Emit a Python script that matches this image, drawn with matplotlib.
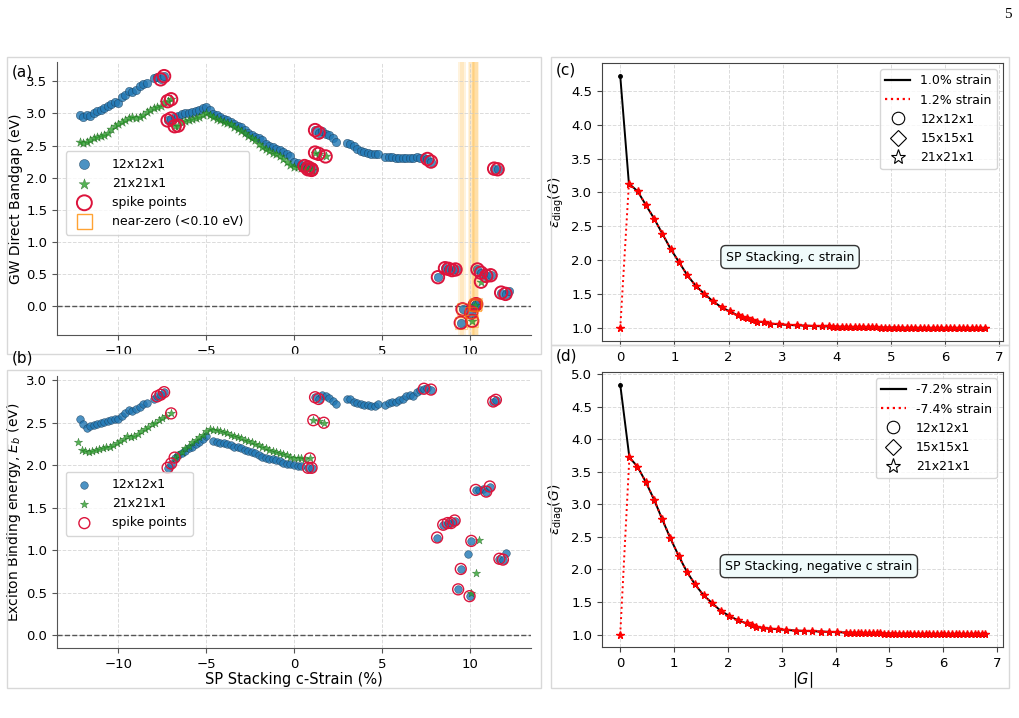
import numpy as np
import matplotlib
matplotlib.use("Agg")
import matplotlib.pyplot as plt
from matplotlib.lines import Line2D
from matplotlib.patches import Rectangle

# ---- (a) GW direct bandgap vs c-strain ----
gw12_x = [-12.2, -12.0, -11.8, -11.6, -11.4, -11.2, -11.0, -10.8, -10.6, -10.4, -10.2, -10.0,
          -9.8, -9.6, -9.4, -9.2, -9.0, -8.8, -8.6, -8.4, -8.0, -7.8, -7.6, -7.4,
          -7.2, -7.0, -6.8, -6.6, -6.4, -6.2, -6.0, -5.8, -5.6, -5.4, -5.2, -5.0, -4.8, -4.6,
          -4.4, -4.2, -4.0, -3.8, -3.6, -3.4, -3.2, -3.0, -2.8, -2.6, -2.4, -2.2, -2.0, -1.8,
          -1.6, -1.4, -1.2, -1.0, -0.8, -0.6, -0.4, -0.2, 0.0, 0.2, 0.4, 0.6, 0.8, 1.0,
          1.2, 1.4, 1.6, 1.8, 2.0, 2.2, 2.4, 3.0, 3.2, 3.4, 3.6, 3.8, 4.0, 4.2, 4.4, 4.6, 4.8,
          5.2, 5.4, 5.6, 5.8, 6.0, 6.2, 6.4, 6.6, 6.8, 7.0, 7.2, 7.4, 7.6, 7.8,
          8.2, 8.6, 8.8, 9.0, 9.2, 9.5, 9.6, 10.1, 10.3, 10.38, 10.45, 10.65, 10.95, 11.2,
          11.4, 11.6, 11.8, 12.05, 12.25]
gw12 = [2.98, 2.95, 2.98, 2.96, 3.00, 3.04, 3.06, 3.09, 3.12, 3.15, 3.17, 3.16,
        3.25, 3.29, 3.35, 3.33, 3.36, 3.42, 3.46, 3.47, 3.55, 3.56, 3.53, 3.58,
        2.89, 2.92, 2.94, 2.96, 2.99, 3.00, 3.01, 3.02, 3.04, 3.05, 3.08, 3.10, 3.06, 2.99,
        2.97, 2.94, 2.91, 2.89, 2.87, 2.84, 2.81, 2.79, 2.74, 2.70, 2.66, 2.64, 2.61, 2.58,
        2.52, 2.49, 2.47, 2.45, 2.43, 2.40, 2.37, 2.34, 2.25, 2.22, 2.20, 2.18, 2.16, 2.13,
        2.74, 2.70, 2.72, 2.68, 2.66, 2.61, 2.55, 2.54, 2.53, 2.49, 2.44, 2.41, 2.40, 2.39, 2.37, 2.36, 2.36,
        2.32, 2.32, 2.32, 2.31, 2.31, 2.31, 2.31, 2.31, 2.30, 2.32, 2.31, 2.30, 2.29, 2.25,
        0.45, 0.59, 0.58, 0.56, 0.57, -0.26, -0.05, -0.10, 0.01, 0.03, 0.57, 0.52, 0.47, 0.48,
        2.14, 2.13, 0.21, 0.19, 0.23]
gw21_x = [-12.2, -12.0, -11.8, -11.6, -11.4, -11.2, -11.0, -10.8, -10.6, -10.4, -10.2, -10.0,
          -9.8, -9.6, -9.4, -9.2, -9.0, -8.8, -8.6, -8.4, -8.2, -8.0, -7.8, -7.6, -7.4, -7.2, -7.0,
          -6.8, -6.6, -6.4, -6.2, -6.0, -5.8, -5.6, -5.4, -5.2, -5.0, -4.8, -4.6, -4.4, -4.2,
          -4.0, -3.8, -3.6, -3.4, -3.2, -3.0, -2.8, -2.6, -2.4, -2.2, -2.0, -1.8, -1.6, -1.4,
          -1.2, -1.0, -0.8, -0.6, -0.4, -0.2, 0.0, 0.2, 0.4, 0.6, 0.8, 1.0,
          1.2, 1.4, 1.8, 10.15, 10.3, 10.65]
gw21 = [2.55, 2.54, 2.56, 2.58, 2.61, 2.63, 2.65, 2.67, 2.70, 2.75, 2.80, 2.83,
        2.86, 2.89, 2.93, 2.94, 2.93, 2.94, 2.98, 3.02, 3.05, 3.08, 3.10, 3.12, 3.17, 3.19, 3.22,
        2.80, 2.81, 2.86, 2.88, 2.89, 2.91, 2.93, 2.95, 2.97, 3.00, 2.97, 2.94, 2.92, 2.90,
        2.87, 2.85, 2.83, 2.79, 2.76, 2.73, 2.69, 2.65, 2.61, 2.58, 2.53, 2.48, 2.45, 2.41,
        2.39, 2.37, 2.33, 2.29, 2.25, 2.20, 2.17, 2.16, 2.15, 2.14, 2.13, 2.12,
        2.39, 2.37, 2.33, -0.23, 0.02, 0.38]
gw12_spikes = [-7.6, -7.4, -7.2, -7.0, 0.6, 0.8, 1.0, 1.2, 1.4, 7.6, 7.8, 8.2, 8.6, 8.8, 9.0,
               9.2, 9.5, 9.6, 10.1, 10.3, 10.38, 10.45, 10.65, 10.95, 11.2, 11.4, 11.6, 11.8, 12.05]
gw21_spikes = [-7.2, -7.0, -6.8, -6.6, 0.8, 1.0, 1.2, 1.4, 1.8, 10.15, 10.3, 10.65]
near_zero_cut = 0.10

# ---- (b) exciton binding energy vs c-strain ----
eb12_x = [-12.2, -12.0, -11.8, -11.6, -11.4, -11.2, -11.0, -10.8, -10.6, -10.4, -10.2, -10.0,
          -9.8, -9.6, -9.4, -9.2, -9.0, -8.8, -8.6, -8.4, -8.0, -7.8, -7.6, -7.4,
          -7.2, -7.0, -6.8, -6.6, -6.4, -6.2, -6.0, -5.8, -5.6, -5.4, -5.2, -5.0,
          -4.6, -4.4, -4.2, -4.0, -3.8, -3.6, -3.4, -3.2, -3.0, -2.8, -2.6, -2.4, -2.2, -2.0,
          -1.8, -1.6, -1.4, -1.2, -1.0, -0.8, -0.6, -0.4, -0.2, 0.0, 0.2, 0.4, 0.8, 1.0,
          1.2, 1.4, 1.6, 1.8, 2.0, 2.2, 2.4, 3.0, 3.2, 3.4, 3.6, 3.8, 4.0, 4.2, 4.4, 4.6, 4.8,
          5.2, 5.4, 5.6, 5.8, 6.0, 6.2, 6.4, 6.6, 6.8, 7.0, 7.2, 7.4, 7.6, 7.8,
          8.15, 8.5, 8.75, 8.95, 9.15, 9.35, 9.5, 9.9, 10.0, 10.1, 10.35, 10.55, 10.75, 10.95,
          11.15, 11.35, 11.5, 11.7, 11.9, 12.1]
eb12 = [2.54, 2.49, 2.44, 2.46, 2.47, 2.48, 2.50, 2.51, 2.52, 2.53, 2.54, 2.55,
        2.58, 2.61, 2.65, 2.64, 2.66, 2.69, 2.72, 2.73, 2.78, 2.81, 2.83, 2.86,
        1.97, 2.02, 2.09, 2.12, 2.15, 2.17, 2.20, 2.22, 2.25, 2.27, 2.31, 2.34,
        2.29, 2.27, 2.26, 2.26, 2.25, 2.24, 2.22, 2.21, 2.20, 2.18, 2.17, 2.16, 2.14, 2.12,
        2.10, 2.09, 2.07, 2.07, 2.06, 2.05, 2.03, 2.02, 2.01, 2.00, 1.99, 1.99, 1.97, 1.97,
        2.80, 2.78, 2.83, 2.82, 2.79, 2.76, 2.72, 2.78, 2.78, 2.75, 2.73, 2.72, 2.71, 2.71, 2.70, 2.70, 2.72,
        2.71, 2.73, 2.74, 2.75, 2.77, 2.78, 2.81, 2.83, 2.82, 2.86, 2.88, 2.90, 2.91, 2.89,
        1.15, 1.30, 1.32, 1.32, 1.35, 0.54, 0.78, 0.96, 0.46, 1.11, 1.71, 1.71, 1.72, 1.69,
        1.75, 2.75, 2.77, 0.90, 0.89, 0.97]
eb21_x = [-12.3, -12.1, -11.9, -11.7, -11.5, -11.3, -11.1, -10.9, -10.7, -10.5, -10.3, -10.1,
          -9.9, -9.7, -9.5, -9.3, -9.1, -8.9, -8.7, -8.5, -8.3, -8.1, -7.9, -7.7, -7.5, -7.3, -7.0,
          -6.8, -6.6, -6.4, -6.2, -6.0, -5.8, -5.6, -5.4, -5.2, -5.0, -4.8, -4.6, -4.4, -4.2,
          -4.0, -3.8, -3.6, -3.4, -3.2, -3.0, -2.8, -2.6, -2.4, -2.2, -2.0, -1.8, -1.6, -1.4,
          -1.2, -1.0, -0.8, -0.6, -0.4, -0.2, 0.0, 0.2, 0.4, 0.6, 0.9,
          1.1, 1.4, 1.7, 10.1, 10.35, 10.55]
eb21 = [2.27, 2.18, 2.17, 2.16, 2.17, 2.18, 2.19, 2.20, 2.21, 2.21, 2.24, 2.26,
        2.28, 2.31, 2.34, 2.33, 2.35, 2.37, 2.40, 2.43, 2.45, 2.48, 2.50, 2.53, 2.56, 2.58, 2.61,
        2.08, 2.12, 2.16, 2.20, 2.23, 2.27, 2.30, 2.33, 2.36, 2.40, 2.43, 2.42, 2.41, 2.40,
        2.39, 2.38, 2.36, 2.35, 2.33, 2.32, 2.30, 2.29, 2.27, 2.25, 2.24, 2.22, 2.20, 2.18,
        2.17, 2.16, 2.15, 2.13, 2.12, 2.10, 2.09, 2.09, 2.08, 2.07, 2.08,
        2.53, 2.52, 2.50, 0.50, 0.73, 1.12]
eb12_spikes = [-7.8, -7.6, -7.4, -7.2, -7.0, -6.8, 0.8, 1.0, 1.2, 1.4, 7.4, 7.8, 8.15, 8.5,
               8.75, 8.95, 9.15, 9.35, 9.5, 10.0, 10.1, 10.35, 10.95, 11.15, 11.35, 11.5, 11.7, 11.9]
eb21_spikes = [-7.0, 0.9, 1.1, 1.7]

# ---- (c) dielectric diagonal, positive c strain ----
g_c = [0.00, 0.16, 0.32, 0.47, 0.63, 0.78, 0.93, 1.09, 1.24, 1.39, 1.55, 1.71, 1.87, 2.02,
       2.17, 2.25, 2.34, 2.43, 2.53, 2.65, 2.77, 2.93, 3.10, 3.26, 3.42, 3.57, 3.73,
       3.85, 3.93, 4.01, 4.09, 4.17, 4.25, 4.33, 4.41, 4.49, 4.57, 4.65, 4.73, 4.81, 4.89,
       4.97, 5.05, 5.13, 5.21, 5.29, 5.37, 5.45, 5.53, 5.61, 5.69, 5.77, 5.85, 5.93, 6.01,
       6.09, 6.17, 6.25, 6.33, 6.41, 6.49, 6.57, 6.65, 6.73]
eps_c_tail = [3.13, 3.02, 2.82, 2.61, 2.39, 2.17, 1.97, 1.78, 1.63, 1.51, 1.40, 1.31, 1.25,
              1.19, 1.17, 1.15, 1.12, 1.10, 1.09, 1.07, 1.06, 1.05, 1.045, 1.04, 1.035, 1.03,
              1.028, 1.026, 1.024, 1.022, 1.02, 1.019, 1.018, 1.017, 1.016, 1.015, 1.014, 1.013,
              1.012, 1.011, 1.010, 1.010, 1.009, 1.008, 1.008, 1.007, 1.007, 1.006, 1.006, 1.005,
              1.005, 1.004, 1.004, 1.004, 1.003, 1.003, 1.003, 1.002, 1.002, 1.002, 1.001, 1.001, 1.001]
eps_c_10 = [4.72] + eps_c_tail
eps_c_12 = [1.00] + eps_c_tail

# ---- (d) dielectric diagonal, negative c strain ----
g_d = [0.00, 0.17, 0.32, 0.47, 0.63, 0.78, 0.93, 1.09, 1.24, 1.39, 1.55, 1.71, 1.87, 2.02,
       2.18, 2.35, 2.44, 2.53, 2.65, 2.78, 2.93, 3.08, 3.27, 3.42, 3.57, 3.73, 3.88, 4.03,
       4.20, 4.27, 4.34, 4.41, 4.48, 4.55, 4.62, 4.69, 4.76, 4.83, 4.90, 4.97, 5.04, 5.11,
       5.18, 5.25, 5.32, 5.39, 5.46, 5.53, 5.60, 5.67, 5.74, 5.81, 5.88, 5.95, 6.02, 6.09,
       6.16, 6.23, 6.30, 6.37, 6.44, 6.51, 6.58, 6.65, 6.72, 6.77]
eps_d_tail = [3.72, 3.58, 3.35, 3.07, 2.77, 2.48, 2.20, 1.96, 1.77, 1.60, 1.48, 1.36, 1.29,
              1.22, 1.17, 1.14, 1.12, 1.10, 1.09, 1.08, 1.07, 1.06, 1.055, 1.05, 1.045, 1.04, 1.035,
              1.03, 1.028, 1.026, 1.024, 1.022, 1.02, 1.019, 1.018, 1.017, 1.016, 1.015, 1.014,
              1.013, 1.012, 1.011, 1.010, 1.010, 1.009, 1.008, 1.008, 1.007, 1.007, 1.006, 1.006,
              1.005, 1.005, 1.004, 1.004, 1.004, 1.003, 1.003, 1.003, 1.002, 1.002, 1.002, 1.001,
              1.001, 1.001]
eps_d_72 = [4.84] + eps_d_tail
eps_d_74 = [1.00] + eps_d_tail

BLUE = "#1f77b4"
GREEN = "#2ca02c"
SPIKE = "crimson"
GRID = dict(color="#cccccc", linestyle="--", linewidth=0.7, alpha=0.7)

W, H = 1020, 718
fig = plt.figure(figsize=(W / 100, H / 100), dpi=100)


def px_rect(x0, y0, x1, y1):
    return [x0 / W, 1 - y1 / H, (x1 - x0) / W, (y1 - y0) / H]


# light frames round each panel
for x0, y0, x1, y1 in [(7, 57, 541, 354), (7, 370, 541, 688), (551, 57, 1009, 345), (551, 345, 1009, 688)]:
    r = px_rect(x0, y0, x1, y1)
    fig.patches.append(Rectangle((r[0], r[1]), r[2], r[3], transform=fig.transFigure,
                                 fill=False, edgecolor="#d8d8d8", linewidth=1.0, zorder=0))

ax_a = fig.add_axes(px_rect(57, 62, 531, 335))
ax_b = fig.add_axes(px_rect(57, 376, 531, 648))
ax_c = fig.add_axes(px_rect(602, 63, 1003, 341))
ax_d = fig.add_axes(px_rect(602, 372, 1003, 647))


def spike_mask(xs, spikes):
    return np.isin(np.round(xs, 2), np.round(spikes, 2))


def strain_panel(ax, x12, y12, x21, y21, sp12, sp21, s_pt, s_sp, lw_sp, near_zero):
    x12, y12, x21, y21 = map(np.asarray, (x12, y12, x21, y21))
    ax.axhline(0, color="#555555", linestyle="--", linewidth=1.0, zorder=1)
    h12 = ax.scatter(x12, y12, s=s_pt, color=BLUE, alpha=0.8, edgecolors="#1b3f5c",
                     linewidths=0.4, label="12x12x1", zorder=3)
    h21 = ax.scatter(x21, y21, s=s_pt * 1.3, marker="*", color=GREEN, alpha=0.8,
                     edgecolors="#1d5e1d", linewidths=0.3, label="21x21x1", zorder=4)
    m12 = spike_mask(x12, sp12)
    m21 = spike_mask(x21, sp21)
    sx = np.concatenate([x12[m12], x21[m21]])
    sy = np.concatenate([y12[m12], y21[m21]])
    hs = ax.scatter(sx, sy, s=s_sp, facecolors="none", edgecolors=SPIKE, linewidths=lw_sp,
                    label="spike points", zorder=5)
    handles = [h12, h21, hs]
    if near_zero:
        nx = np.concatenate([x12[y12 < near_zero_cut], x21[y21 < near_zero_cut]])
        ny = np.concatenate([y12[y12 < near_zero_cut], y21[y21 < near_zero_cut]])
        for xv in nx:
            ax.axvspan(xv - 0.17, xv + 0.17, color="orange", alpha=0.13, linewidth=0, zorder=0)
        ax.scatter(nx, ny, s=s_sp * 0.9, marker="s", facecolors="none", edgecolors="darkorange",
                   linewidths=0.8, alpha=0.4, zorder=6)
        handles.append(Line2D([], [], linestyle="none", marker="s", markersize=9,
                              markerfacecolor="none", markeredgecolor="darkorange",
                              markeredgewidth=1.0, alpha=0.8, label="near-zero (<0.10 eV)"))
    ax.set_xlim(-13.5, 13.5)
    ax.set_xticks([-10, -5, 0, 5, 10])
    ax.grid(True, **GRID)
    ax.set_axisbelow(True)
    for side in ("top", "right"):
        ax.spines[side].set_visible(False)
    for side in ("left", "bottom"):
        ax.spines[side].set_color("#555555")
    ax.tick_params(labelsize=9.5, color="#555555")
    return handles


ha = strain_panel(ax_a, gw12_x, gw12, gw21_x, gw21, gw12_spikes, gw21_spikes, 36, 80, 1.4, True)
ax_a.set_ylim(-0.45, 3.8)
ax_a.set_yticks(np.arange(0, 3.6, 0.5))
ax_a.set_ylabel("GW Direct Bandgap (eV)", fontsize=10, labelpad=2)
ax_a.legend(handles=ha, loc="lower left", bbox_to_anchor=(0.005, 0.345), fontsize=9,
            markerscale=1.2, handletextpad=1.2, borderpad=0.5)

hb = strain_panel(ax_b, eb12_x, eb12, eb21_x, eb21, eb12_spikes, eb21_spikes, 30, 62, 1.0, False)
ax_b.set_ylim(-0.15, 3.05)
ax_b.set_yticks(np.arange(0, 3.1, 0.5))
ax_b.set_ylabel("Exciton Binding energy, $E_b$ (eV)", fontsize=10, labelpad=2)
ax_b.set_xlabel("SP Stacking c-Strain (%)", fontsize=10.5, labelpad=1)
ax_b.legend(handles=hb, loc="lower left", bbox_to_anchor=(0.005, 0.39), fontsize=9,
            handletextpad=1.2, borderpad=0.5)


def eps_panel(ax, g, eps_a, eps_b, lab_a, lab_b, note):
    ax.plot(g, eps_a, color="black", linewidth=1.4, marker="o", markersize=2.5, zorder=3)
    ax.plot(g, eps_b, color="red", linestyle=":", linewidth=1.4, marker="*", markersize=5.5, zorder=4)
    ax.set_xticks(range(0, 8))
    ax.grid(True, **GRID)
    ax.set_axisbelow(True)
    for sp in ax.spines.values():
        sp.set_color("#444444")
    ax.tick_params(labelsize=9.5, color="#444444")
    ax.set_ylabel(r"$\varepsilon_{\rm diag}(G)$", fontsize=10)
    handles = [
        Line2D([], [], color="black", linewidth=1.6, label=lab_a),
        Line2D([], [], color="red", linestyle=":", linewidth=1.6, label=lab_b),
        Line2D([], [], linestyle="none", marker="o", markersize=9, markerfacecolor="none",
               markeredgecolor="black", markeredgewidth=0.8, label="12x12x1"),
        Line2D([], [], linestyle="none", marker="D", markersize=8, markerfacecolor="none",
               markeredgecolor="black", markeredgewidth=0.8, label="15x15x1"),
        Line2D([], [], linestyle="none", marker="*", markersize=11, markerfacecolor="none",
               markeredgecolor="black", markeredgewidth=0.8, label="21x21x1"),
    ]
    ax.legend(handles=handles, loc="upper right", fontsize=9, borderaxespad=0.5)
    ax.text(1.95, 2.05, note, fontsize=9, ha="left", va="center", zorder=6,
            bbox=dict(boxstyle="round,pad=0.4", facecolor="#f0fbfb", edgecolor="#333333", linewidth=1))


eps_panel(ax_c, g_c, eps_c_10, eps_c_12, "1.0% strain", "1.2% strain", "SP Stacking, c strain")
eps_panel(ax_d, g_d, eps_d_72, eps_d_74, "-7.2% strain", "-7.4% strain", "SP Stacking, negative c strain")
ax_d.set_xlabel("$|G|$", fontsize=10.5, labelpad=0)

for lab, x, y in [("(a)", 12, 72), ("(b)", 12, 358), ("(c)", 556, 70), ("(d)", 556, 356)]:
    fig.text(x / W, 1 - y / H, lab, fontsize=11, ha="left", va="center")
fig.text(1012 / W, 1 - 15 / H, "5", fontsize=11, ha="right", va="center", family="Liberation Serif")

fig.savefig("out.png", dpi=100)
